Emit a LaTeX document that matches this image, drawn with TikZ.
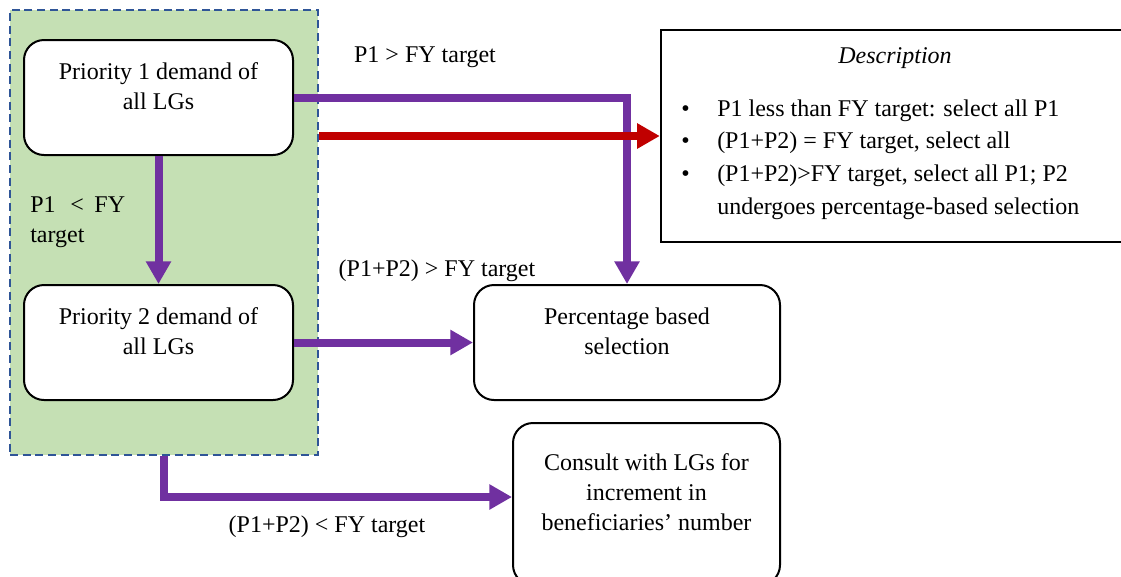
\documentclass[tikz,border=0pt]{standalone}
\usepackage{fontspec}
\setmainfont{Liberation Serif}
\usetikzlibrary{positioning,arrows.meta}

\definecolor{grpgreen}{HTML}{C5E0B4}
\definecolor{grpblue}{HTML}{2F5597}
\definecolor{flowpurple}{HTML}{7030A0}
\definecolor{flowred}{HTML}{C00000}

\begin{document}
\begin{tikzpicture}[
        x=0.75pt, y=-0.75pt,
        every node/.style={font=\fontsize{18}{22.5}\selectfont, inner sep=0pt},
        group/.style={draw=grpblue, fill=grpgreen, line width=1.8pt, dash pattern=on 6pt off 3.5pt,
                minimum width=231pt, minimum height=333.75pt},
        stage/.style={draw, fill=white, line width=1.5pt, rounded corners=15pt,
                minimum width=201.75pt, minimum height=86.25pt},
        stagetext/.style={align=center},
        descbox/.style={draw, line width=1.8pt, minimum width=359.25pt, minimum height=159pt},
        flow/.style={draw=flowpurple, line width=6pt, -{Triangle[length=17pt,width=18pt]}},
        stopflow/.style={draw=flowred, line width=6pt, -{Triangle[length=17pt,width=18pt]}}
    ]

    \clip (0,0) rectangle (1121,576);

    \node[group] (grp) at (164,232.5) {};

    \node[stage] (p1) at (158.5,97.5) {};
    \node[stagetext, below=17.5pt of p1.north] (p1txt) {Priority 1 demand of\\all LGs};
    \node[stage] (p2) at (158.5,342.5) {};
    \node[stagetext, below=17.5pt of p2.north] (p2txt) {Priority 2 demand of\\all LGs};
    \node[stage, minimum width=229.5pt] (pct) at (627,342.5) {};
    \node[stagetext, below=17.5pt of pct.north] (pcttxt) {Percentage based\\selection};
    \node[stage, minimum width=200.25pt, minimum height=121.5pt] (cons) at (646.5,504) {};
    \node[stagetext, below=23.5pt of cons.north] (constxt) {Consult with LGs for\\increment in\\beneficiaries’ number};

    \node[descbox] (desc) at (900.5,136) {};
    \node[font=\fontsize{18}{22.5}\selectfont\itshape] (desctitle) at (895,58.5) {Description};
    \node[anchor=north west, font=\fontsize{18}{24.5}\selectfont] (desclist) at (681,93) {%
        \begin{tabular}{@{}p{27pt}@{}l@{}}
            \textbullet & P1 less than FY target: select all P1\\
            \textbullet & (P1+P2) = FY target, select all\\
            \textbullet & (P1+P2)>FY target, select all P1; P2\\
                        & undergoes percentage-based selection
        \end{tabular}};

    \node (lblgt) at (425,57.5) {P1 > FY target};
    \node[align=left, anchor=west] (lbllt) at (30,222.5) {P1\hspace{11pt}<\hspace{8pt}FY\\target};
    \node (lblsum) at (437,270.5) {(P1+P2) > FY target};
    \node (lblless) at (327,526.5) {(P1+P2) < FY target};

    \draw[flow] (p1.east) -| (pct.north);
    \draw[stopflow] (grp.east |- desc.west) -- (desc.west);
    \draw[flow] (p1.south) -- (p2.north);
    \draw[flow] (p2.east) -- (pct.west);
    \draw[flow] (grp.south) |- ([yshift=5.25pt]cons.west);

\end{tikzpicture}
\end{document}
